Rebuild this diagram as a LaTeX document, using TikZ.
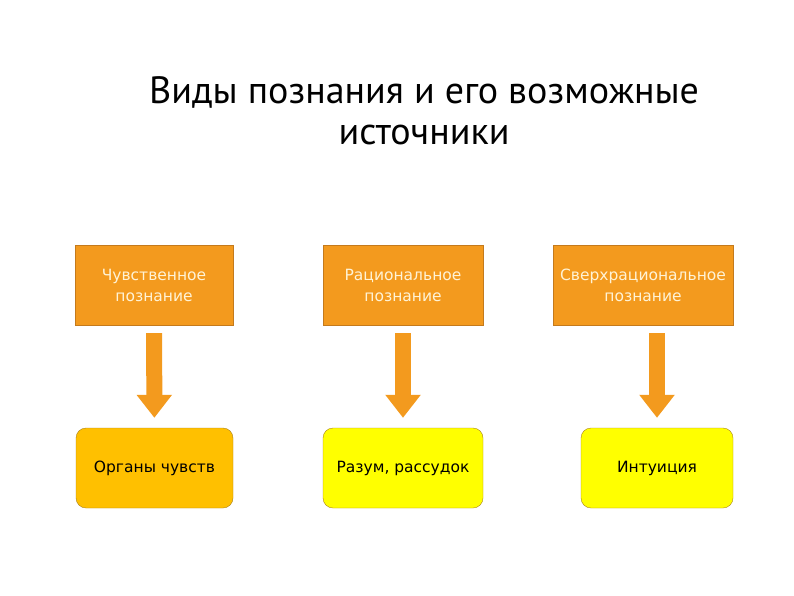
\documentclass[tikz,border=0pt]{standalone}
\usepackage{fontspec}
\setmainfont{PT Sans}
\newfontfamily\boxfont{DejaVu Sans}
\usepackage{tikz}
\usetikzlibrary{arrows.meta}

\definecolor{kindfill}{HTML}{F39A1E}
\definecolor{kinddraw}{HTML}{C47A1C}
\definecolor{kindtext}{HTML}{FFF3D6}
\definecolor{amberfill}{HTML}{FFC000}
\definecolor{yellowfill}{HTML}{FFFF00}
\definecolor{srcdraw}{HTML}{A8801A}

\tikzset{
  kind/.style={rectangle,draw=kinddraw,fill=kindfill,text=kindtext,
    minimum height=80pt,align=center,font=\boxfont\fontsize{15.5}{21}\selectfont},
  source/.style={rectangle,rounded corners=10pt,draw=srcdraw,
    minimum height=80pt,align=center,font=\boxfont\fontsize{15.5}{19}\selectfont},
}

\begin{document}
\begin{tikzpicture}[x=1pt,y=-1pt]
				\useasboundingbox (0,0) rectangle (794,595);
				\node[align=center,font=\fontsize{38}{41}\selectfont] (title) at (424,111)
					{Виды познания и его возможные\\источники};

				% kinds of cognition
				\node[kind,minimum width=158pt] (sense) at (154,285) {Чувственное\\познание};
				\node[kind,minimum width=160pt] (reason) at (403,285) {Рациональное\\познание};
				\node[kind,minimum width=180pt] (super) at (643,285) {Сверхрациональное\\познание};

				% sources
				\node[source,fill=amberfill,minimum width=157pt] (organs) at (154.5,468) {Органы чувств};
				\node[source,fill=yellowfill,minimum width=160pt] (mind) at (403,468) {Разум, рассудок};
				\node[source,fill=yellowfill,minimum width=152pt] (intuition) at (657,468) {Интуиция};

				\begin{scope}[every edge/.style={draw=kindfill,line width=16pt,
						shorten <=8pt,shorten >=10pt},
					>={Triangle[width=34pt,length=23pt,fill=kindfill]}]
					\path [->] (sense) edge (organs);
					\path [->] (reason) edge (mind);
					\path [->] (super.south -| intuition) edge (intuition);
				\end{scope}
\end{tikzpicture}
\end{document}
